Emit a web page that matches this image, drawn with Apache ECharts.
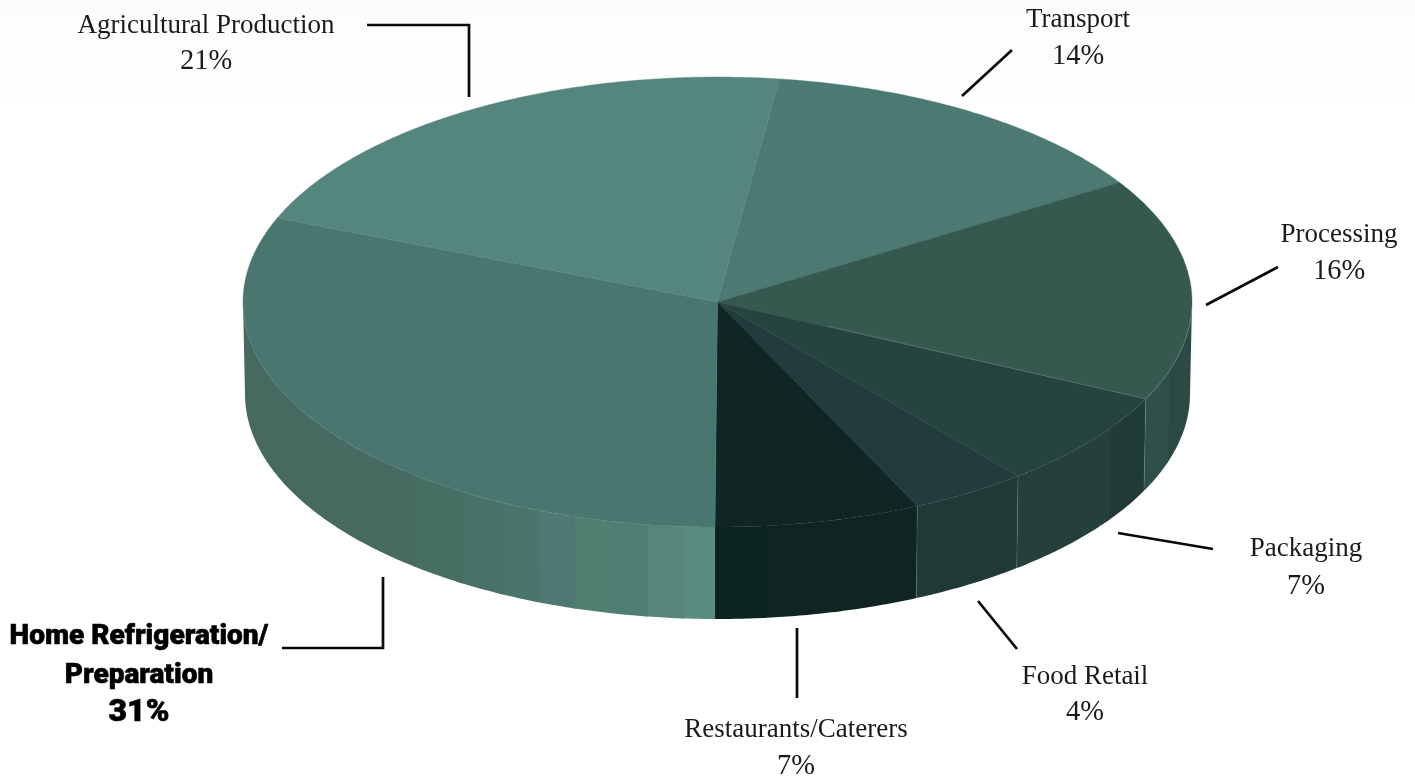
<!DOCTYPE html>
<html>
<head>
<meta charset="utf-8">
<style>html,body{margin:0;padding:0;background:#fff}#chart{width:1415px;height:776px}</style>
<script src="https://cdn.jsdelivr.net/npm/echarts@6/dist/echarts.min.js"></script>
</head>
<body>
<div id="chart"></div>
<script>
// Share of food-system energy use by stage, clockwise from the Transport slice.
const categories = ['Transport', 'Processing', 'Packaging', 'Food Retail', 'Restaurants/Caterers', 'Home Refrigeration/\nPreparation', 'Agricultural Production'];
const shares = [14, 16, 7, 4, 7, 31, 21];

// Slice colours for the top face.
const topColors = ['#4C7A72', '#35594F', '#26443E', '#223C3D', '#0F2624', '#49776F', '#54867D'];

// Side-wall shading: [end of band as a fraction of the slice, colour].
const wallBands = [
  [[1, '#3E655D']],
  [[0.86, '#2C4A45'], [1, '#2F4F49']],
  [[0.337, '#203B36'], [1, '#253F3C']],
  [[1, '#1F3A36']],
  [[0.754, '#102522'], [1, '#0C2421']],
  [[0.034, '#598B7F'], [0.073, '#578579'], [0.114, '#507D74'], [0.154, '#517F72'], [0.196, '#4E7872'],
   [0.239, '#49756C'], [0.289, '#497167'], [0.353, '#466F64'], [1, '#476A60']],
  [[1, '#54867D']]
];

// Label anchors and leader lines, in page pixels.
const labelLayout = [
  { x: 1078, y: [20, 57], line: [[1012, 50], [962, 96]] },
  { x: 1339, y: [235, 272], line: [[1278, 267], [1206, 305]] },
  { x: 1306, y: [549, 587], line: [[1118, 533], [1213, 549]] },
  { x: 1085, y: [677, 713], line: [[978, 601], [1017, 649]] },
  { x: 796, y: [730, 767], line: [[797, 628], [797, 698]] },
  { x: 139, y: [637, 676, 713], line: [[383, 577], [383, 648], [282, 648]], heavy: true },
  { x: 206, y: [26, 62], line: [[367, 25], [469, 25], [469, 97]] }
];

const pie = { cx: 717.5, cy: 302, rx: 474.5, ry: 225, depth: 92, baseRx: 472.5, startDeg: 7.5 };
const total = shares.reduce((a, b) => a + b, 0);

// Point on the tilted disc; degrees run clockwise from twelve o'clock.
function rimPoint(deg, rx, dy) {
  const t = deg * Math.PI / 180;
  return [pie.cx + rx * Math.sin(t), pie.cy - pie.ry * Math.cos(t) + dy];
}
function sliceStart(i) {
  let sum = 0;
  for (let k = 0; k < i; k++) sum += shares[k];
  return pie.startDeg + sum / total * 360;
}
function arc(from, to, rx, dy) {
  const pts = [];
  const n = Math.max(2, Math.ceil(Math.abs(to - from) * 2));
  for (let k = 0; k <= n; k++) pts.push(rimPoint(from + (to - from) * k / n, rx, dy));
  return pts;
}

// Each band runs slightly under the next one so no seam shows between them.
function renderWall(params, api) {
  const i = params.dataIndex;
  const start = sliceStart(i);
  const sweep = api.value(0) / total * 360;
  const children = [];
  let prev = 0;
  wallBands[i].forEach(([end, color]) => {
    const a = Math.max(start + prev * sweep, 90);
    const b = Math.min(start + end * sweep + (end < 1 ? 0.4 : 0), 270);
    prev = end;
    if (b <= a) return;
    const pts = arc(a, b, pie.rx, 0).concat(arc(b, a, pie.baseRx, pie.depth));
    children.push({ type: 'polygon', shape: { points: pts }, style: { fill: color } });
  });
  return { type: 'group', children };
}

function renderTop(params, api) {
  const i = params.dataIndex;
  const start = sliceStart(i);
  const sweep = api.value(0) / total * 360;
  const pts = [[pie.cx, pie.cy]].concat(arc(start, start + sweep, pie.rx, 0));
  return {
    type: 'polygon', shape: { points: pts },
    style: { fill: topColors[i], stroke: topColors[i], lineWidth: 0.4 }
  };
}

// Pale hairlines along the slice seams on the lower right of the disc.
function renderSeams(params, api) {
  const i = params.dataIndex;
  const start = sliceStart(i);
  const seam = 'rgba(190,215,205,0.32)';
  const out = [];
  if (i === 2) {
    out.push({ type: 'polyline', shape: { points: [[pie.cx + 110, pie.cy + 24], rimPoint(start, pie.rx, 0)] }, style: { stroke: seam, fill: null, lineWidth: 0.6 } });
    out.push({ type: 'polyline', shape: { points: arc(start - 24, start, pie.rx, 0) }, style: { stroke: seam, fill: null, lineWidth: 0.6 } });
  }
  if (i >= 2 && i <= 4) {
    out.push({ type: 'polyline', shape: { points: [rimPoint(start, pie.rx, 0), rimPoint(start, pie.baseRx, pie.depth)] }, style: { stroke: seam, fill: null, lineWidth: 0.5 } });
  }
  return { type: 'group', children: out };
}

function renderLabel(params, api) {
  const i = params.dataIndex;
  const lay = labelLayout[i];
  const pct = api.value(0) + '%';
  const lines = categories[i].split('\n').concat(pct);
  const children = lines.map((txt, k) => {
    const isPct = k === lines.length - 1;
    return {
      type: 'text',
      style: {
        text: txt, x: lay.x, y: lay.y[k], align: 'center', verticalAlign: 'middle',
        fill: lay.heavy ? '#000' : '#1a1a1a',
        stroke: lay.heavy ? '#000' : null, lineWidth: lay.heavy ? 0.6 : 0,
        font: lay.heavy
          ? (isPct ? '900 32px Roboto' : '900 28px Roboto')
          : (isPct ? '28.5px "Liberation Serif"' : '27px "Liberation Serif"')
      }
    };
  });
  children.push({
    type: 'polyline', shape: { points: lay.line },
    style: { stroke: '#0a0a0a', fill: null, lineWidth: 2.7, lineJoin: 'miter' }
  });
  return { type: 'group', children };
}

const chart = echarts.init(document.getElementById('chart'), null, { renderer: 'canvas' });
const custom = (renderItem, z) => ({
  type: 'custom', coordinateSystem: 'none', renderItem, data: shares.map(v => [v]), z,
  silent: true, animation: false
});
chart.setOption({
  animation: false,
  backgroundColor: {
    type: 'linear', x: 0, y: 0, x2: 0, y2: 1,
    colorStops: [{ offset: 0, color: '#fcfcfb' }, { offset: 0.14, color: '#ffffff' }, { offset: 1, color: '#ffffff' }]
  },
  series: [custom(renderWall, 1), custom(renderTop, 2), custom(renderSeams, 3), custom(renderLabel, 4)]
});
</script>
</body>
</html>
